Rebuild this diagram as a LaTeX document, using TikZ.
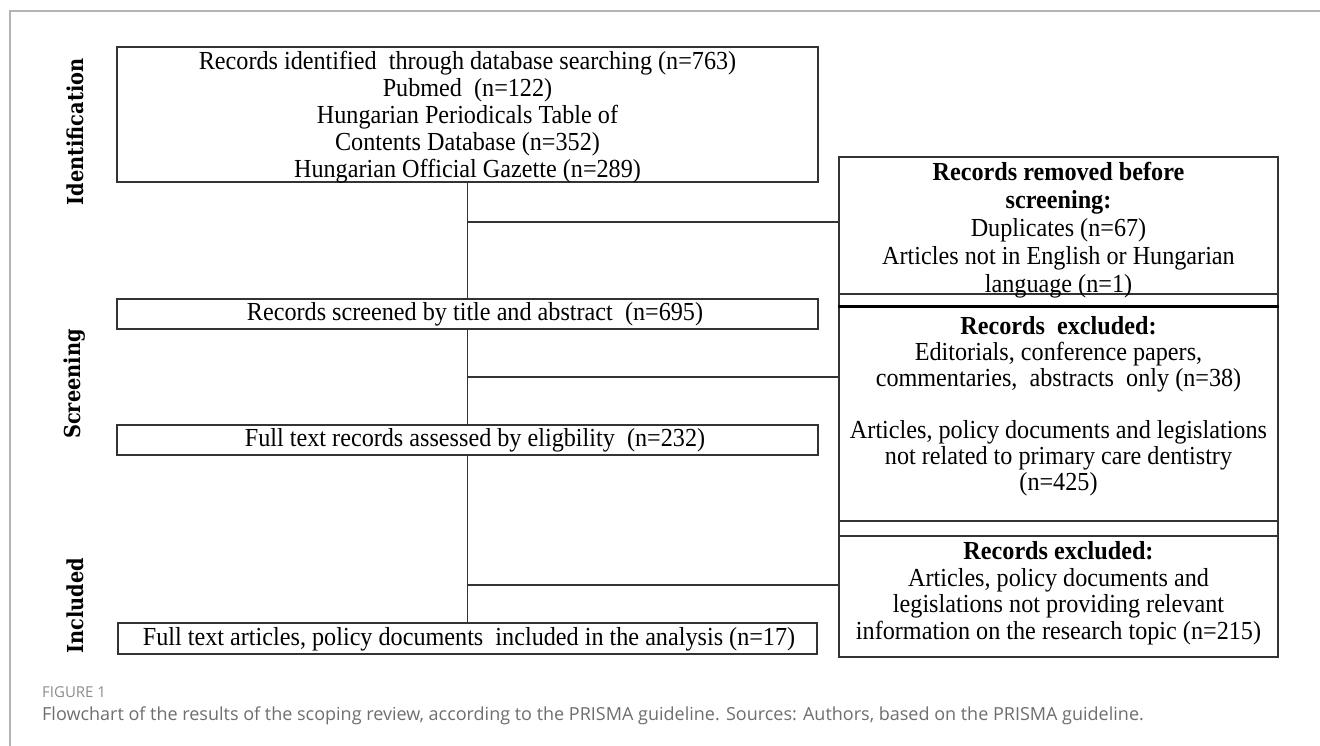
\documentclass[tikz,border=0pt]{standalone}
\usepackage{fontspec}
\setmainfont{Liberation Serif}[FakeStretch=0.93]
\newfontfamily\lblfont{DejaVu Serif}[FakeStretch=0.88]
\newfontfamily\capfont{Open Sans}
\definecolor{linec}{HTML}{333333}
\definecolor{framec}{HTML}{B4B4B4}
\definecolor{figc}{HTML}{8C8C8C}
\definecolor{capc}{HTML}{6E6E6E}
\begin{document}
\begin{tikzpicture}[x=1pt,y=-1pt,
  box/.style={draw=linec, line width=1.4pt, rectangle, inner sep=0pt},
  txt/.style={align=center, inner sep=0pt, font=\fontsize{26}{26.5}\selectfont, text=black},
  side/.style={rotate=90, inner sep=0pt, font=\lblfont\bfseries\fontsize{22}{24}\selectfont},
  conn/.style={draw=linec, line width=1.4pt}]
\useasboundingbox (0,0) rectangle (1320,746);
% frame
\coordinate (fr1) at (1320,11);
\coordinate (fr2) at (10,11);
\coordinate (fr3) at (10,746);
\draw[framec, line width=2pt] (fr1) -- (fr2) -- (fr3);

% left column boxes
\node[box, minimum width=701pt, minimum height=135pt] (b1) at (467.5,114.5) {};
\node[box, minimum width=701pt, minimum height=30pt] (b2) at (467.5,314) {};
\node[box, minimum width=701pt, minimum height=30pt] (b3) at (467.5,440) {};
\node[box, minimum width=699pt, minimum height=31pt] (b4) at (467.5,638.5) {};

% right column boxes
\node[box, minimum width=439pt, minimum height=137pt] (rA) at (1058.5,225.5) {};
\node[box, minimum width=439pt, minimum height=13pt] (g1) at (1058.5,300.5) {};
\node[box, minimum width=439pt, minimum height=214pt] (rB) at (1058.5,414) {};
\node[box, minimum width=439pt, minimum height=15pt] (g2) at (1058.5,528.5) {};
\node[box, minimum width=439pt, minimum height=121pt] (rC) at (1058.5,596.5) {};
\draw[black, line width=3pt] (rB.north west) -- (rB.north east);

% texts
\node[txt, font=\fontsize{26}{27}\selectfont] (t1) at (467.5,117) {Records identified \ through database searching (n=763)\\Pubmed \ (n=122)\\Hungarian Periodicals Table of\\Contents Database (n=352)\\Hungarian Official Gazette (n=289)};
\node[txt] (t2) at (475,314) {Records screened by title and abstract \ (n=695)};
\node[txt] (t3) at (475,440) {Full text records assessed by eligbility \ (n=232)};
\node[txt] (t4) at (469,639) {Full text articles, policy documents \ included in the analysis (n=17)};
\node[txt, font=\fontsize{26}{28}\selectfont] (tA) at (1058.5,230) {\textbf{Records removed before}\\\textbf{screening:}\\Duplicates (n=67)\\Articles not in English or Hungarian\\language (n=1)};
\node[txt, font=\fontsize{26}{26}\selectfont] (tB) at (1058.5,406) {\textbf{Records \ excluded:}\\Editorials, conference papers,\\commentaries, \ abstracts \ only (n=38)\\[26pt]Articles, policy documents and legislations\\not related to primary care dentistry\\(n=425)};
\node[txt, font=\fontsize{26}{26.5}\selectfont] (tC) at (1058.5,593) {\textbf{Records excluded:}\\Articles, policy documents and\\legislations not providing relevant\\information on the research topic (n=215)};

% side labels
\node[side] (l1) at (75,132) {Identification};
\node[side] (l2) at (75,384) {Screening};
\node[side] (l3) at (75,606) {Included};

% connectors
\draw[conn] (b1.south) -- (b2.north);
\draw[conn] (b2.south) -- (b3.north);
\draw[conn] (b3.south) -- (b4.north);
\coordinate (j1) at (467.5,222);
\coordinate (j2) at (467.5,377);
\coordinate (j3) at (467.5,585);
\draw[conn] (j1) -- (j1 -| rA.west);
\draw[conn] (j2) -- (j2 -| rB.west);
\draw[conn] (j3) -- (j3 -| rC.west);

% caption
\node[anchor=base west, inner sep=0pt, text=figc, font=\capfont\fontsize{15}{17}\selectfont] (fig) at (42,697) {FIGURE 1};
\node[anchor=base west, inner sep=0pt, text=capc, font=\capfont\fontsize{18}{20}\selectfont] (cap) at (42,720) {Flowchart of the results of the scoping review, according to the PRISMA guideline. Sources: Authors, based on the PRISMA guideline.};
\end{tikzpicture}
\end{document}
